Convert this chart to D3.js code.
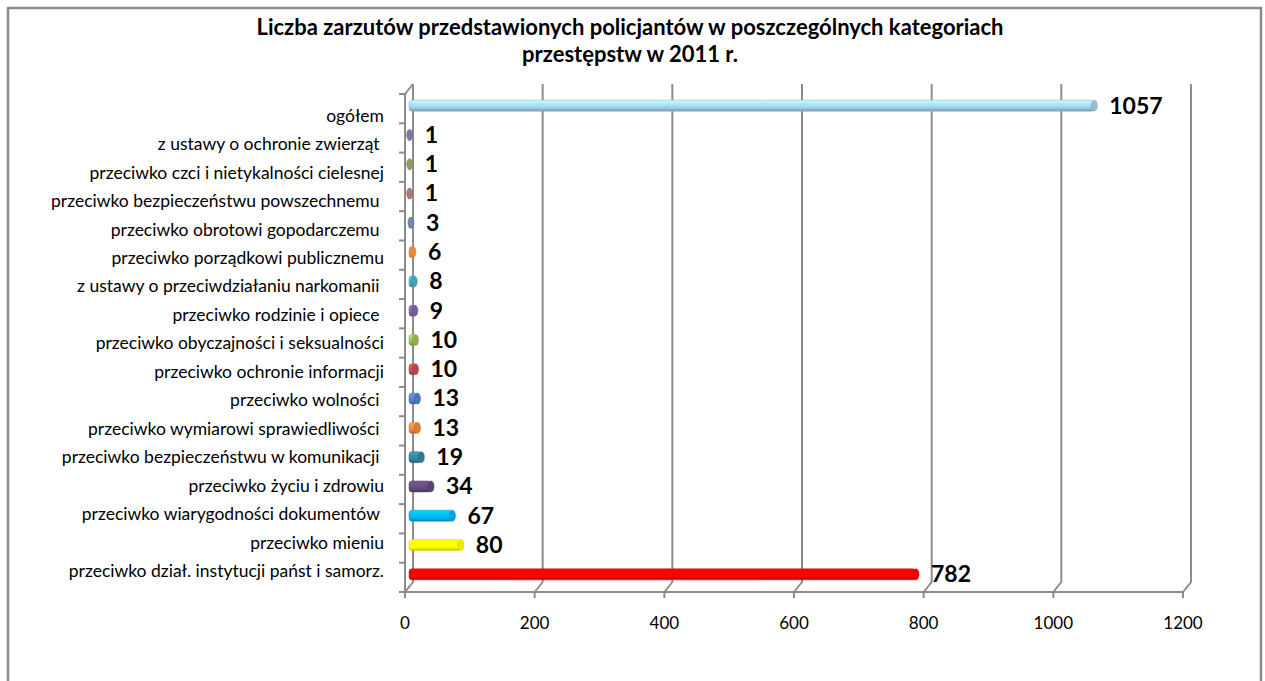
<!DOCTYPE html>
<html>
<head>
<meta charset="utf-8">
<script src="https://cdn.jsdelivr.net/npm/d3@7"></script>
<style>
  body { margin: 0; background: #fff; }
  svg { display: block; font-family: Lato, "Open Sans", sans-serif; }
</style>
</head>
<body>
<svg width="1265" height="681"></svg>
<script>
// categories, top to bottom as shown in the chart
var categories = [
    "ogółem",
    "z ustawy o ochronie zwierząt ",
    "przeciwko czci i nietykalności cielesnej",
    "przeciwko bezpieczeństwu powszechnemu ",
    "przeciwko obrotowi gopodarczemu ",
    "przeciwko porządkowi publicznemu",
    "z ustawy o przeciwdziałaniu narkomanii ",
    "przeciwko rodzinie i opiece ",
    "przeciwko obyczajności i seksualności",
    "przeciwko ochronie informacji",
    "przeciwko wolności ",
    "przeciwko wymiarowi sprawiedliwości ",
    "przeciwko bezpieczeństwu w komunikacji ",
    "przeciwko życiu i zdrowiu",
    "przeciwko wiarygodności dokumentów ",
    "przeciwko mieniu",
    "przeciwko dział. instytucji państ i samorz."
];
var values = [1057, 1, 1, 1, 3, 6, 8, 9, 10, 10, 13, 13, 19, 34, 67, 80, 782];
var colors = [
    "#9fcfe4", "#8a82aa", "#98ad6a", "#b58584", "#7f8fbf", "#f79646",
    "#4bacc6", "#8064a2", "#9bbb59", "#c0504d", "#4f81bd", "#e8873a",
    "#31849b", "#604a7b", "#00b0f0", "#ffff00", "#ff0000"
];
var xTicks = [0, 200, 400, 600, 800, 1000, 1200];
var titleLines = [
    "Liczba zarzutów przedstawionych policjantów w poszczególnych kategoriach",
    "przestępstw w 2011 r."
];

var svg = d3.select("svg");
var width = 1265, height = 681;

// front plane of the 3D box, back wall is shifted by (dx, dy)
var x = d3.scaleLinear().domain([0, 1200]).range([405, 1183]);
var y = d3.scaleBand().domain(categories).range([94, 592]);
// category labels sit on a slightly tighter projected band
var yLabel = d3.scaleBand().domain(categories).range([103, 587]);
var dx = 8, dy = -10;
var gridColor = "#8c8c8c";

// outer frame
svg.append("rect")
    .attr("x", 8).attr("y", 8)
    .attr("width", 1253).attr("height", 720)
    .attr("fill", "none")
    .attr("stroke", "#8a8a8a")
    .attr("stroke-width", 2.5);

// title
svg.selectAll("text.title")
    .data(titleLines)
    .enter()
    .append("text")
    .attr("class", "title")
    .attr("x", 630)
    .attr("y", function(d, i) { return 35 + i * 27; })
    .attr("text-anchor", "middle")
    .style("font-size", "22px")
    .style("font-weight", "bold")
    .text(function(d) { return d; });

// back wall gridlines with their bend onto the floor
var grid = svg.append("g");
grid.selectAll("path")
    .data(xTicks)
    .enter()
    .append("path")
    .attr("d", function(d) {
        var px = x(d);
        return "M" + (px + dx) + "," + (94 + dy) + "L" + (px + dx) + "," + (592 + dy) + "L" + px + "," + 592;
    })
    .attr("fill", "none")
    .attr("stroke", gridColor)
    .attr("stroke-width", 2);

// floor front edge + ticks
grid.append("line")
    .attr("x1", x(0)).attr("x2", x(1200))
    .attr("y1", 592).attr("y2", 592)
    .attr("stroke", gridColor).attr("stroke-width", 2);
grid.selectAll("line.xt")
    .data(xTicks)
    .enter()
    .append("line")
    .attr("class", "xt")
    .attr("x1", function(d) { return x(d); })
    .attr("x2", function(d) { return x(d); })
    .attr("y1", 592).attr("y2", 598)
    .attr("stroke", gridColor).attr("stroke-width", 2);

// left wall front edge + category ticks
grid.append("path")
    .attr("d", "M" + x(0) + ",592L" + x(0) + ",94L" + (x(0) + dx) + "," + (94 + dy))
    .attr("fill", "none")
    .attr("stroke", gridColor).attr("stroke-width", 2);
var bounds = categories.map(function(c) { return y(c); }).concat([592]);
grid.selectAll("line.yt")
    .data(bounds)
    .enter()
    .append("line")
    .attr("class", "yt")
    .attr("x1", x(0) - 6).attr("x2", x(0))
    .attr("y1", function(d) { return d; })
    .attr("y2", function(d) { return d; })
    .attr("stroke", gridColor).attr("stroke-width", 2);

// x tick labels
svg.selectAll("text.xl")
    .data(xTicks)
    .enter()
    .append("text")
    .attr("class", "xl")
    .attr("x", function(d) { return x(d); })
    .attr("y", 629)
    .attr("text-anchor", "middle")
    .style("font-size", "17px")
    .text(function(d) { return d; });

// category labels
svg.selectAll("text.cat")
    .data(categories)
    .enter()
    .append("text")
    .attr("class", "cat")
    .attr("x", 384)
    .attr("y", function(d) { return yLabel(d) + yLabel.bandwidth() / 2; })
    .attr("text-anchor", "end")
    .attr("dominant-baseline", "middle")
    .style("white-space", "pre")
    .style("font-size", "17.5px")
    .text(function(d) { return d; });

// cylinder gradients
var defs = svg.append("defs");
colors.forEach(function(c, i) {
    var g = defs.append("linearGradient")
        .attr("id", "cyl" + i)
        .attr("x1", 0).attr("y1", 0).attr("x2", 0).attr("y2", 1);
    var base = d3.color(c);
    g.append("stop").attr("offset", "0%").attr("stop-color", base.brighter(0.6));
    g.append("stop").attr("offset", "35%").attr("stop-color", base.brighter(0.3));
    g.append("stop").attr("offset", "70%").attr("stop-color", base);
    g.append("stop").attr("offset", "100%").attr("stop-color", base.darker(0.8));
});

// bars, drawn half way into the box depth
var barH = 11;
var bx = dx / 2, by = dy / 2 + 2;
var bars = svg.selectAll("g.bar")
    .data(categories)
    .enter()
    .append("g")
    .attr("class", "bar");

bars.append("rect")
    .attr("x", function(d) { return x(0) + bx; })
    .attr("y", function(d) { return y(d) + y.bandwidth() / 2 + by - barH / 2; })
    .attr("width", function(d, i) { return Math.max(0, x(values[i]) - x(0)); })
    .attr("height", barH)
    .attr("rx", 3)
    .attr("fill", function(d, i) { return "url(#cyl" + i + ")"; })
    .attr("stroke", function(d, i) { return d3.color(colors[i]).darker(0.5); })
    .attr("stroke-width", 0.5);

bars.append("ellipse")
    .attr("cx", function(d, i) { return x(values[i]) + bx; })
    .attr("cy", function(d) { return y(d) + y.bandwidth() / 2 + by; })
    .attr("rx", 3)
    .attr("ry", barH / 2)
    .attr("fill", function(d, i) { return d3.color(colors[i]).darker(0.2); })
    .attr("stroke", function(d, i) { return d3.color(colors[i]).darker(0.6); })
    .attr("stroke-width", 0.6);

// value labels
svg.selectAll("text.val")
    .data(categories)
    .enter()
    .append("text")
    .attr("class", "val")
    .attr("x", function(d, i) { return x(values[i]) + bx + 15; })
    .attr("y", function(d) { return y(d) + y.bandwidth() / 2 + by + 2; })
    .attr("dominant-baseline", "middle")
    .style("font-size", "23px")
    .style("font-weight", "bold")
    .text(function(d, i) { return values[i]; });
</script>
</body>
</html>
